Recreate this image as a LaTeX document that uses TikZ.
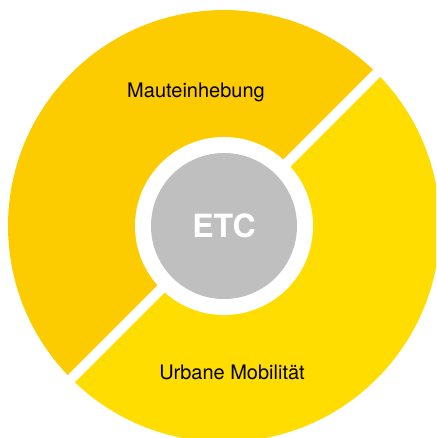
\documentclass[tikz,border=0pt]{standalone}
\usepackage{fontspec}
\setmainfont{TeX Gyre Heros}
\usetikzlibrary{calc}
\definecolor{darkyellow}{RGB}{253,204,0}
\definecolor{lightyellow}{RGB}{255,221,0}
\definecolor{etcgray}{RGB}{190,191,190}
\begin{document}
\begin{tikzpicture}[x=1pt,y=-1pt,
  label text/.style={font=\fontsize{20}{24}\selectfont, text=black, inner sep=0pt},
  etc box/.style={circle, fill=etcgray, minimum size=146pt, inner sep=0pt,
    text=white, font=\bfseries\fontsize{32}{36}\selectfont},
  ring gap/.style={circle, fill=white, minimum size=178pt, inner sep=0pt},
  divider/.style={white, line width=10pt}]
\useasboundingbox (0,0) rectangle (436,438);
\clip (0,0) rectangle (436,438);
\fill[white] (0,0) rectangle (436,438);
\coordinate (c) at (224,226);
\fill[darkyellow] (c) -- ++(-45:216) arc[start angle=-45, end angle=-225, radius=216] -- cycle;
\fill[lightyellow] (c) -- ++(-225:216) arc[start angle=-225, end angle=-405, radius=216] -- cycle;
\coordinate (g1) at ($(c)+(-45:240)$);
\coordinate (g2) at ($(c)+(-225:240)$);
\draw[divider] (g1) -- (g2);
\node[ring gap] (ring) at (c) {};
\node[etc box] (etc) at (c) {ETC};
\node[label text] (maut) at (196,92) {Mauteinhebung};
\node[label text] (urban) at (232,372) {Urbane Mobilität};
\end{tikzpicture}
\end{document}
